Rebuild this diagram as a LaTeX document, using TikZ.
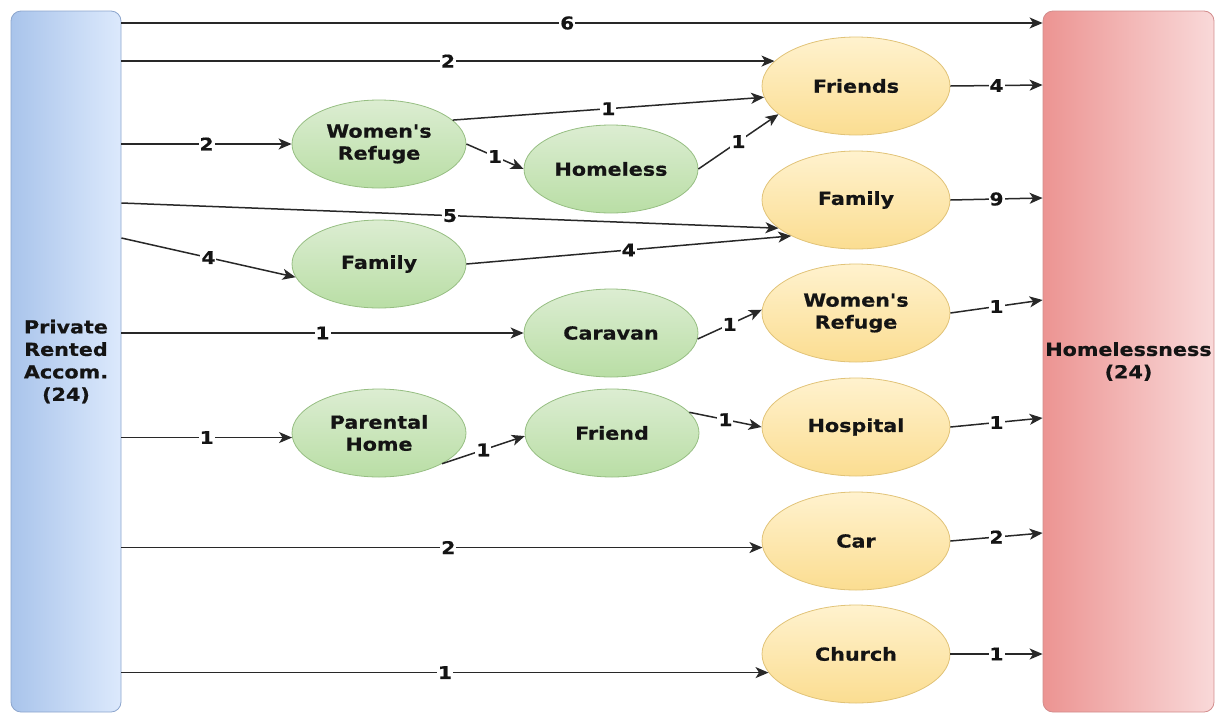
\documentclass[tikz,border=0pt]{standalone}
\usepackage{fontspec}
\newfontfamily\vb{DejaVu Sans}[FakeStretch=1.15, BoldFeatures={FakeBold=0.6}]
\usetikzlibrary{shapes.geometric,arrows.meta}
\definecolor{txt}{RGB}{20,20,20}
\definecolor{linec}{RGB}{40,40,40}
\definecolor{blueL}{RGB}{169,196,235}
\definecolor{blueR}{RGB}{220,233,252}
\definecolor{blueB}{RGB}{140,165,205}
\definecolor{redL}{RGB}{236,148,146}
\definecolor{redR}{RGB}{249,217,217}
\definecolor{redB}{RGB}{210,140,140}
\definecolor{gtop}{RGB}{220,237,210}
\definecolor{gbot}{RGB}{185,222,165}
\definecolor{gborder}{RGB}{150,190,130}
\definecolor{ytop}{RGB}{255,242,206}
\definecolor{ybot}{RGB}{251,221,145}
\definecolor{yborder}{RGB}{225,195,120}
\begin{document}
\begin{tikzpicture}[x=1pt,y=-1pt,
  bar/.style={rectangle, rounded corners=10pt, line width=0.8pt, inner sep=0pt,
    align=center, text=txt, font=\vb\bfseries\fontsize{18}{22.5}\selectfont},
  gnode/.style={ellipse, minimum width=174pt, minimum height=88pt, inner sep=0pt,
    top color=gtop, bottom color=gbot, draw=gborder, line width=0.8pt,
    align=center, text=txt, font=\vb\bfseries\fontsize{18}{22}\selectfont},
  ynode/.style={ellipse, minimum width=188pt, minimum height=98pt, inner sep=0pt,
    top color=ytop, bottom color=ybot, draw=yborder, line width=0.8pt,
    align=center, text=txt, font=\vb\bfseries\fontsize{18}{22}\selectfont},
  arr/.style={draw=linec, line width=1.5pt, -{Stealth[length=13pt,width=11pt,inset=3.5pt]}},
  lbl/.style={fill=white, inner sep=1pt, text=txt, font=\vb\bfseries\fontsize{17.5}{18}\selectfont}
]
\useasboundingbox (0,0) rectangle (1216,713);
\node[bar, minimum width=110pt, minimum height=701pt, left color=blueL, right color=blueR, draw=blueB]
  (pra) at (66,361.5) {Private\\Rented\\Accom.\\(24)};
\node[bar, minimum width=171pt, minimum height=701pt, left color=redL, right color=redR, draw=redB]
  (hom) at (1128.5,361.5) {Homelessness\\(24)};

\node[gnode] (wrG) at (379,144) {Women's\\Refuge};
\node[gnode] (hl) at (611,169) {Homeless};
\node[gnode] (famG) at (379,264) {Family};
\node[gnode] (cv) at (611,333) {Caravan};
\node[gnode] (ph) at (379,433) {Parental\\Home};
\node[gnode] (fr) at (612,433) {Friend};

\node[ynode] (fY) at (856,86) {Friends};
\node[ynode] (famY) at (856,200) {Family};
\node[ynode] (wrY) at (856,313) {Women's\\Refuge};
\node[ynode] (hp) at (856,427) {Hospital};
\node[ynode] (car) at (856,541) {Car};
\node[ynode] (ch) at (856,654) {Church};

\draw[arr] (pra.east |- 0,23) -- (hom.west |- 0,23) node[lbl, pos=0.484] {6};
\draw[arr] (pra.east |- fY.163) -- (fY.163) node[lbl, midway] {2};
\draw[arr] (pra.east |- wrG.west) -- (wrG.west) node[lbl, midway] {2};
\draw[arr] (wrG.18) -- (fY.187) node[lbl, midway] {1};
\draw[arr] (wrG.east) -- (hl.west) node[lbl, midway] {1};
\draw[arr] (hl.east) -- (fY.200) node[lbl, midway] {1};
\draw[arr] (fY.east) -- (hom.west |- 0,85) node[lbl, midway] {4};
\draw[arr] (pra.east |- 0,203) -- (famY.200) node[lbl, midway] {5};
\draw[arr] (pra.east |- 0,238) -- (famG.189.5) node[lbl, midway] {4};
\draw[arr] (famG.east) -- (famY.209) node[lbl, midway] {4};
\draw[arr] (famY.east) -- (hom.west |- 0,198) node[lbl, midway] {9};
\draw[arr] (pra.east |- cv.west) -- (cv.west) node[lbl, midway] {1};
\draw[arr] (cv.-4) -- (wrY.178) node[lbl, midway] {1};
\draw[arr] (wrY.east) -- (hom.west |- 0,300) node[lbl, midway] {1};
\draw[arr] (pra.east |- ph.183) -- (ph.183) node[lbl, midway] {1};
\draw[arr] (ph.334) -- (fr.182) node[lbl, midway] {1};
\draw[arr] (fr.15) -- (hp.west) node[lbl, midway] {1};
\draw[arr] (hp.east) -- (hom.west |- 0,418) node[lbl, midway] {1};
\draw[arr] (pra.east |- car.184.5) -- (car.184.5) node[lbl, pos=0.51] {2};
\draw[arr] (car.east) -- (hom.west |- 0,533) node[lbl, midway] {2};
\draw[arr] (pra.east |- ch.192.5) -- (ch.192.5) node[lbl, midway] {1};
\draw[arr] (ch.east) -- (hom.west |- ch.east) node[lbl, midway] {1};
\end{tikzpicture}
\end{document}
